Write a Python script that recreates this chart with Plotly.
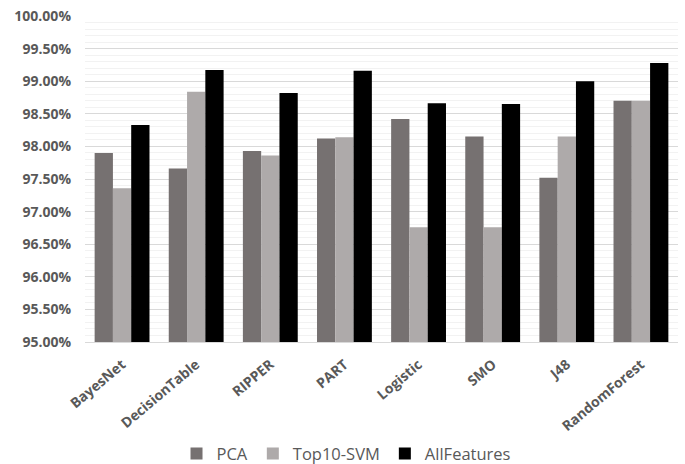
import plotly.graph_objects as go

categories = ["BayesNet", "DecisionTable", "RIPPER", "PART", "Logistic", "SMO", "J48", "RandomForest"]
pca = [97.90, 97.66, 97.93, 98.12, 98.42, 98.15, 97.52, 98.70]
top10_svm = [97.36, 98.84, 97.86, 98.14, 96.76, 96.76, 98.15, 98.70]
all_features = [98.33, 99.17, 98.82, 99.16, 98.66, 98.65, 99.00, 99.28]
y_ticks = [95.0, 95.5, 96.0, 96.5, 97.0, 97.5, 98.0, 98.5, 99.0, 99.5, 100.0]

series = [("PCA", pca, "#767171"), ("Top10-SVM", top10_svm, "#AEAAAA"), ("AllFeatures", all_features, "#000000")]

fig = go.Figure()
for name, vals, col in series:
    fig.add_trace(go.Bar(x=categories, y=vals, name=name,
                         marker=dict(color=col, line=dict(width=0))))

fig.update_layout(
    width=685, height=464,
    margin=dict(l=85, r=7, t=16, b=122, autoexpand=False),
    paper_bgcolor="white", plot_bgcolor="white",
    barmode="group", bargap=0.26, bargroupgap=0,
    font=dict(family="Open Sans, Liberation Sans, sans-serif", color="#595959"),
    legend=dict(orientation="h", x=0.441, xanchor="center", xref="paper",
                y=-0.343, yanchor="middle", font=dict(size=16.5, color="#595959"),
                traceorder="normal", itemwidth=30),
    showlegend=True,
)
fig.update_yaxes(range=[95.0, 100.0], tickvals=y_ticks,
                 ticktext=[f"{v:.2f}%" for v in y_ticks],
                 tickfont=dict(size=14, color="#595959", family="Open Sans, sans-serif", weight="bold"),
                 ticklabelstandoff=13, automargin=False, ticklabeloverflow="allow",
                 showgrid=True, gridcolor="#D9D9D9", gridwidth=1,
                 minor=dict(dtick=0.1, showgrid=True, gridcolor="#F2F2F2", gridwidth=1),
                 zeroline=False, showline=False, ticks="", ticklen=0)
fig.update_xaxes(tickangle=-40, automargin=False,
                 tickfont=dict(size=14, color="#595959", family="Open Sans, sans-serif", weight="bold"),
                 ticklabelstandoff=8,
                 showline=True, linecolor="#D9D9D9", linewidth=1, ticks="")

fig.write_html("out.html", config={"displayModeBar": False},
               post_script="document.body.style.margin='0';document.body.style.overflow='hidden';")
